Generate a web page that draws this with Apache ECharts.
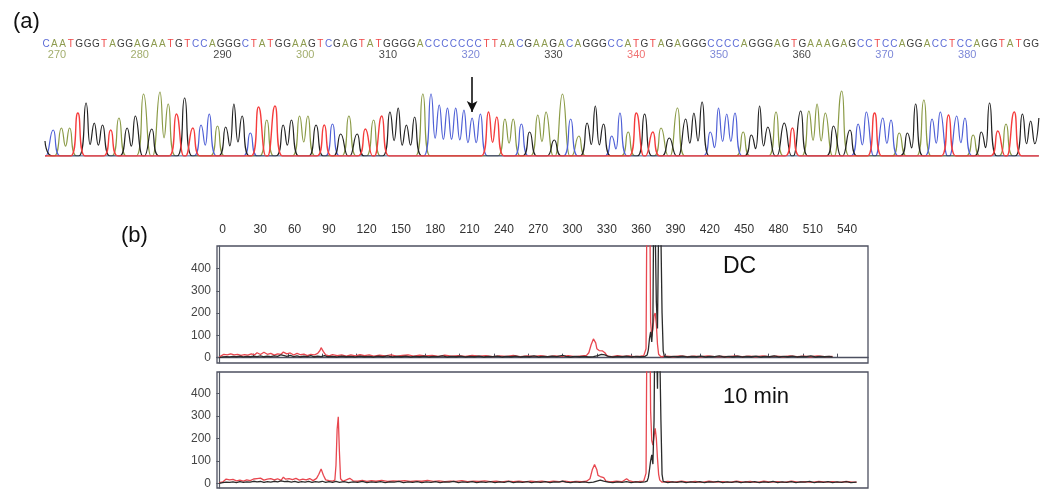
<!DOCTYPE html>
<html>
<head>
<meta charset="utf-8">
<title>Sequencing trace and fragment analysis</title>
<style>
  html, body, #main {width:100%;height:100%;margin:0;overflow:hidden;background:#fff;}
</style>
<script src="https://cdn.jsdelivr.net/npm/echarts@6/dist/echarts.min.js"></script>
</head>
<body>
<div id="main"></div>
<script>
// (a) base calls, first visible base is 268
var firstBase = 268;
var bases = 'GCAATGGGTAGGAGAATGTCCAGGGCTATGG' +
            'AAGTCGAGTATGGGGACCCCCCCTTAACGAA' +
            'GACAGGGCCATGTAGAGGGCCCCAGGGAGT' +
            'GAAAGAGCCTCCAGGACCTCCAGGTATGGG';
// peak height of each base call (px above baseline)
var peakHeights = [15,26,28,28,43,53,33,31,26,38,28,40,62,27,64,52,42,58,28,31,42,30,29,52,40,23,49,36,50,31,36,
  40,40,31,31,32,22,40,22,27,36,40,44,48,31,39,62,62,51,48,48,46,38,42,44,39,37,37,32,24,41,44,
  16,62,37,20,33,50,32,20,43,24,43,42,24,28,18,48,37,43,54,24,48,42,43,24,21,50,29,44,33,28,
  45,45,52,43,30,65,26,32,44,43,38,36,23,23,52,56,37,44,41,40,38,21,24,53,25,32,44,42,35,38];
var seqNumbers = [270,280,290,300,310,320,330,340,350,360,370,380];
var arrowBase = 320;

// (b) fragment sizes
var sizeTicks = [0,30,60,90,120,150,180,210,240,270,300,330,360,390,420,450,480,510,540];
var rfuTicks = [0,100,200,300,400];
var dcRed = [[0,3],[2,9],[4,15],[7,12],[10,17],[13,12],[16,15],[19,10],[22,14],[25,11],[28,17],[31,13],[33,22],[36,14],[39,24],[42,15],[45,19],[48,11],[51,17],[54,15],[56,25],[59,17],[62,21],[65,12],[68,19],[71,13],[74,16],[77,9],[80,15],[83,12],[86,19],[88,32],[89,45],[91,27],[93,12],[96,8],[99,14],[103,9],[107,12],[111,7],[115,12],[119,8],[123,13],[127,9],[131,12],[135,7],[140,11],[145,8],[150,12],[155,7],[160,10],[165,12],[170,7],[175,11],[180,8],[186,10],[192,6],[197,11],[203,7],[209,9],[215,6],[221,10],[227,7],[233,9],[239,5],[245,8],[251,6],[257,10],[263,5],[269,8],[275,6],[281,9],[287,5],[293,8],[299,6],[305,9],[311,5],[317,8],[321,10],[323,22],[325,58],[327,84],[329,66],[330,40],[332,32],[335,30],[337,22],[339,8],[343,5],[348,9],[353,6],[358,8],[363,5],[368,7],[371,9],[373,40],[374,900],[376,900],[377,160],[378,95],[379,130],[380,190],[381,200],[382,150],[383,60],[384,15],[386,4],[391,7],[397,4],[403,8],[409,5],[415,7],[421,4],[427,8],[433,5],[439,6],[445,4],[451,8],[457,5],[463,7],[469,4],[475,8],[481,5],[487,7],[493,4],[499,8],[505,5],[511,7],[517,4],[523,8],[529,5],[536,6]];
var dcBlack = [[0,0],[3,3],[6,5],[9,3],[12,6],[15,4],[18,7],[21,3],[24,6],[27,4],[30,7],[33,5],[36,8],[39,4],[42,7],[45,5],[48,8],[51,6],[54,13],[56,10],[59,6],[62,10],[65,5],[68,8],[71,4],[74,7],[77,5],[80,9],[83,4],[86,7],[89,5],[92,9],[95,4],[99,6],[103,3],[107,7],[111,4],[115,6],[119,3],[123,7],[127,4],[131,6],[135,3],[139,7],[143,4],[147,8],[151,3],[155,6],[159,4],[163,7],[167,3],[171,6],[175,4],[179,7],[183,3],[187,6],[191,5],[195,8],[199,3],[203,6],[207,4],[211,7],[215,3],[219,6],[223,4],[227,7],[231,3],[235,6],[239,5],[243,7],[247,3],[251,6],[255,4],[259,7],[263,3],[267,6],[271,4],[275,8],[279,3],[283,6],[287,4],[291,7],[295,5],[300,10],[303,6],[307,3],[311,6],[315,4],[319,6],[323,3],[327,5],[331,9],[334,15],[337,12],[340,6],[344,3],[348,6],[352,4],[356,7],[360,3],[364,6],[368,4],[372,6],[374,12],[375,35],[376,85],[377,116],[378,70],[379,160],[380,900],[381,900],[382,250],[383,131],[384,600],[385,900],[386,900],[387,200],[388,30],[389,6],[393,3],[397,6],[401,4],[405,7],[409,3],[413,6],[417,4],[421,7],[425,3],[429,6],[433,5],[437,8],[441,3],[445,6],[449,4],[453,7],[457,3],[461,6],[465,4],[469,7],[473,3],[477,6],[481,4],[485,8],[489,3],[493,6],[497,4],[501,7],[505,3],[509,6],[513,5],[517,8],[521,3],[525,6],[529,4],[533,6],[536,3]];
var tenRed = [[0,3],[3,6],[6,19],[9,15],[12,17],[15,11],[18,14],[21,10],[24,15],[27,12],[30,19],[33,21],[36,23],[39,14],[42,18],[45,21],[48,15],[51,20],[54,13],[56,27],[58,18],[61,21],[64,16],[67,22],[70,14],[73,19],[76,15],[79,21],[82,12],[85,22],[87,40],[89,64],[91,36],[93,15],[96,12],[99,10],[101,14],[102,80],[103,240],[104,296],[105,140],[106,20],[108,9],[111,15],[114,22],[117,11],[121,9],[125,13],[129,8],[133,12],[137,9],[142,13],[147,8],[152,11],[157,9],[162,12],[167,8],[172,11],[177,9],[182,13],[187,8],[192,11],[197,7],[202,10],[207,8],[212,12],[217,7],[222,10],[227,8],[232,11],[237,7],[242,9],[247,6],[252,10],[257,7],[262,9],[267,6],[272,10],[277,7],[282,9],[287,6],[292,10],[297,7],[302,9],[307,6],[312,8],[317,7],[321,9],[324,20],[326,60],[328,84],[330,60],[331,35],[333,30],[336,25],[338,10],[342,6],[347,9],[352,7],[356,20],[358,12],[362,6],[367,8],[371,10],[373,45],[374,900],[376,900],[377,320],[378,190],[379,170],[380,210],[381,244],[382,200],[383,110],[384,40],[385,14],[387,5],[392,8],[398,5],[404,9],[410,5],[416,8],[422,4],[428,9],[434,5],[440,7],[446,4],[452,9],[458,5],[464,8],[470,4],[476,9],[482,5],[488,7],[494,4],[500,9],[506,5],[512,7],[518,4],[524,8],[530,5],[536,7],[542,4],[548,8],[553,5],[557,5]];
var tenBlack = [[0,0],[3,3],[6,5],[9,4],[12,6],[15,3],[18,7],[21,4],[24,6],[27,5],[30,9],[33,6],[36,8],[39,4],[42,7],[45,5],[48,9],[51,6],[54,11],[57,7],[60,9],[63,5],[66,8],[69,4],[72,7],[75,5],[78,8],[81,4],[84,7],[87,5],[90,9],[93,4],[96,7],[99,4],[102,8],[105,4],[109,7],[113,3],[117,6],[121,4],[125,8],[129,3],[133,6],[137,4],[141,7],[145,3],[149,6],[153,5],[157,8],[161,3],[165,6],[169,4],[173,7],[177,3],[181,6],[185,4],[189,7],[193,3],[197,6],[201,5],[205,8],[209,3],[213,6],[217,4],[221,7],[225,3],[229,6],[233,4],[237,7],[241,3],[245,6],[249,4],[253,8],[257,3],[261,6],[265,4],[269,7],[273,3],[277,6],[281,4],[285,7],[289,3],[293,6],[297,5],[300,10],[303,5],[307,3],[311,6],[315,4],[319,6],[323,3],[327,5],[330,10],[333,14],[336,10],[340,5],[344,3],[348,6],[352,4],[356,7],[360,3],[364,6],[368,4],[372,6],[374,10],[375,25],[376,60],[377,100],[378,126],[379,85],[380,280],[381,900],[382,900],[383,420],[384,900],[385,900],[386,280],[387,40],[388,8],[392,3],[396,6],[400,4],[404,7],[408,3],[412,6],[416,4],[420,7],[424,3],[428,6],[432,5],[436,8],[440,3],[444,6],[448,4],[452,7],[456,3],[460,6],[464,4],[468,7],[472,3],[476,6],[480,4],[484,8],[488,3],[492,6],[496,4],[500,7],[504,3],[508,6],[512,5],[516,8],[520,3],[524,6],[528,4],[532,7],[536,3],[540,6],[544,4],[548,7],[552,3],[557,5]];

var baseColor = {A:'#8a9a45', C:'#4e5fd6', G:'#222222', T:'#f53c3c'};
var letterColor = {A:'#8d9b4e', C:'#5b6bd6', G:'#3a3a3a', T:'#ef4747'};
var numberColor = {A:'#a3ae6e', C:'#7d88d8', G:'#4a4a4a', T:'#f07373'};
var font = '"Liberation Sans", Arial, sans-serif';

// one trace per dye: a peak at each base of that letter, flat between
function traceData(letter) {
    var pts = [];
    var n = bases.length;
    for (var i = 0; i < n; i++) {
        var b = firstBase + i;
        if (bases[i] !== letter) {
            if (i === 0 || i === n - 1) pts.push([b, 0]);
            continue;
        }
        var h = peakHeights[i];
        var prevSame = i > 0 && bases[i - 1] === letter;
        var nextSame = i < n - 1 && bases[i + 1] === letter;
        if (!prevSame && i > 0) pts.push([b - 0.9, 0]);
        pts.push([b, h]);
        if (nextSame) pts.push([b + 0.5, Math.min(h, peakHeights[i + 1]) * 0.35]);
        else if (i < n - 1) pts.push([b + 0.9, 0]);
    }
    return pts;
}

function richFor(colors, size) {
    var r = {};
    for (var k in colors) r[k] = {color: colors[k], fontSize: size, fontFamily: font};
    return r;
}

var letterValues = [];
for (var b = 269; b <= 388; b++) letterValues.push(b);

var chart = echarts.init(document.getElementById('main'), null, {renderer: 'canvas'});

var traceSeries = ['A', 'C', 'G', 'T'].map(function (L) {
    var s = {
        type: 'line', xAxisIndex: 0, yAxisIndex: 0,
        data: traceData(L), showSymbol: false, smooth: 0.5,
        lineStyle: {color: baseColor[L], width: L === 'T' ? 1.4 : 1.2},
        silent: true, animation: false
    };
    if (L === 'C') {
        s.markLine = {
            silent: true, symbol: ['none', 'arrow'], symbolSize: [8, 11],
            label: {show: false},
            lineStyle: {color: '#111', width: 1.6, type: 'solid'},
            data: [[{coord: [arrowBase, 79]}, {coord: [arrowBase, 44]}]]
        };
    }
    return s;
});

function ceLine(data, color, xi, yi) {
    return {type: 'line', xAxisIndex: xi, yAxisIndex: yi, data: data, showSymbol: false,
        lineStyle: {color: color, width: 1.3}, silent: true, animation: false};
}

function ceY(grid, min, max) {
    return {
        type: 'value', gridIndex: grid, min: min, max: max, offset: 2,
        axisLine: {show: true, lineStyle: {color: '#555a66', width: 1.2}},
        axisTick: {show: true, customValues: rfuTicks, length: 3, lineStyle: {color: '#555a66'}},
        axisLabel: {customValues: rfuTicks, margin: 4, fontSize: 12, color: '#444', fontFamily: font},
        splitLine: {show: false}
    };
}

var option = {
    animation: false,
    backgroundColor: '#fff',
    title: [
        {text: '(a)', left: 8, top: 6, textStyle: {fontSize: 22, fontWeight: 'normal', color: '#111', fontFamily: font}},
        {text: '(b)', left: 116, top: 220, textStyle: {fontSize: 22, fontWeight: 'normal', color: '#111', fontFamily: font}},
        {text: 'DC', left: 718, top: 250, textStyle: {fontSize: 23, fontWeight: 'normal', color: '#111', fontFamily: font}},
        {text: '10 min', left: 718, top: 381, textStyle: {fontSize: 22, fontWeight: 'normal', color: '#111', fontFamily: font}}
    ],
    grid: [
        {left: 41, right: 0, top: 76, height: 80},
        {left: 217, top: 246, width: 651, height: 117, show: true, borderColor: '#4d5060', borderWidth: 1.3, backgroundColor: 'transparent'},
        {left: 217, top: 372, width: 651, height: 116, show: true, borderColor: '#4d5060', borderWidth: 1.3, backgroundColor: 'transparent'}
    ],
    xAxis: [
        {type: 'value', gridIndex: 0, min: 267.514, max: 389.15, show: false},
        {type: 'value', gridIndex: 0, min: 268.4, max: 388.6, position: 'top',
            axisLine: {show: false}, axisTick: {show: false}, splitLine: {show: false},
            axisLabel: {customValues: letterValues, margin: 27, rich: richFor(letterColor, 10),
                formatter: function (v) { var L = bases[Math.round(v) - firstBase]; return '{' + L + '|' + L + '}'; }}},
        {type: 'value', gridIndex: 0, min: 268.07, max: 388.8, position: 'top',
            axisLine: {show: false}, axisTick: {show: false}, splitLine: {show: false},
            axisLabel: {customValues: seqNumbers, margin: 16, rich: richFor(numberColor, 11),
                formatter: function (v) { var L = bases[Math.round(v) - firstBase]; return '{' + L + '|' + v + '}'; }}},
        {type: 'value', gridIndex: 1, min: -2, max: 567, position: 'top', offset: 6,
            axisLine: {show: true, lineStyle: {color: '#4d5060', width: 1.3}},
            axisTick: {show: true, customValues: sizeTicks, length: 4, lineStyle: {color: '#4d5060'}},
            axisLabel: {customValues: sizeTicks, align: 'left', margin: 4, fontSize: 12, color: '#333', fontFamily: font},
            splitLine: {show: false}},
        {type: 'value', gridIndex: 2, min: -2, max: 567, show: false}
    ],
    yAxis: [
        {type: 'value', gridIndex: 0, min: 0, max: 80, show: false},
        ceY(1, -24, 501),
        ceY(2, -21, 495)
    ],
    series: traceSeries.concat([
        ceLine(dcRed, '#e8474f', 3, 1),
        ceLine(dcBlack, '#2b2b2b', 3, 1),
        ceLine(tenRed, '#e8474f', 4, 2),
        ceLine(tenBlack, '#2b2b2b', 4, 2)
    ])
};
chart.setOption(option);
</script>
</body>
</html>
